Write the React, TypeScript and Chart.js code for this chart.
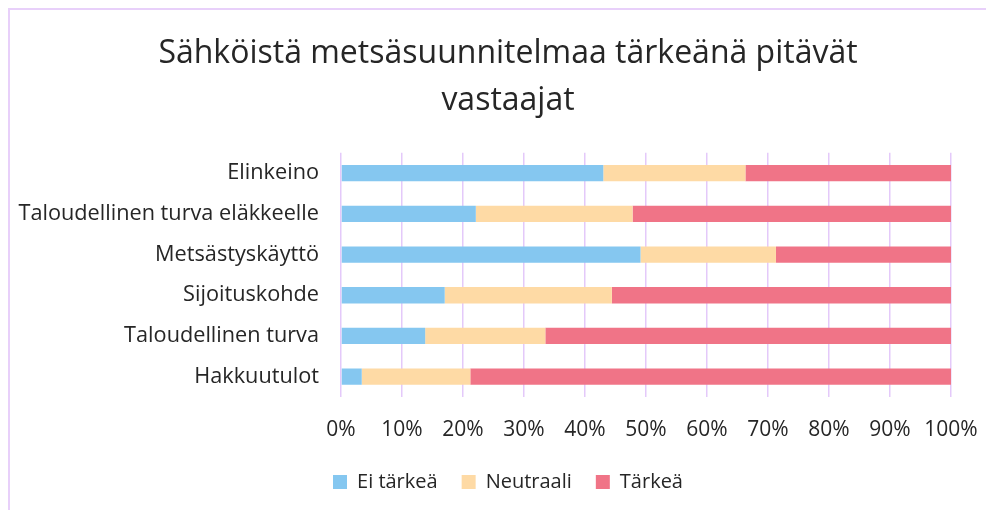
import { useEffect, useRef } from "react";
import { Chart, registerables } from "chart.js";
Chart.register(...registerables);

const titleLines = ["Sähköistä metsäsuunnitelmaa tärkeänä pitävät", "vastaajat"];
const categories = [
  "Elinkeino",
  "Taloudellinen turva eläkkeelle",
  "Metsästyskäyttö",
  "Sijoituskohde",
  "Taloudellinen turva",
  "Hakkuutulot",
];
const seriesNames = ["Ei tärkeä", "Neutraali", "Tärkeä"];
const eiTarkea = [43.0, 22.1, 49.1, 17.0, 13.8, 3.4];
const neutraali = [23.3, 25.7, 22.2, 27.4, 19.7, 17.8];
const tarkea = [33.7, 52.2, 28.7, 55.6, 66.5, 78.8];
const seriesColors = ["#85C7F0", "#FEDAA5", "#F07487"];

const FONT = "'Open Sans', sans-serif";
const TEXT = "#262626";

export default function App() {
  const ref = useRef<HTMLCanvasElement | null>(null);
  useEffect(() => {
    if (!ref.current) return;
    const chart = new Chart(ref.current, {
      type: "bar",
      data: {
        labels: categories,
        datasets: [eiTarkea, neutraali, tarkea].map((d, i) => ({
          label: seriesNames[i],
          data: d,
          backgroundColor: seriesColors[i],
          borderWidth: 0,
          barPercentage: 0.4,
          categoryPercentage: 1,
        })),
      },
      options: {
        indexAxis: "y",
        responsive: false,
        animation: false,
        layout: { padding: { left: 0, right: 14, top: 0, bottom: 8 } },
        plugins: {
          title: {
            display: true,
            text: titleLines,
            color: TEXT,
            font: { family: FONT, size: 32, weight: "normal", lineHeight: 1.45 },
            padding: { top: 21, bottom: 29 },
          },
          legend: {
            position: "bottom",
            labels: {
              color: TEXT,
              font: { family: FONT, size: 20 },
              boxWidth: 14,
              boxHeight: 14,
              padding: 24,
            },
          },
          tooltip: { enabled: false },
        },
        scales: {
          x: {
            stacked: true,
            min: 0,
            max: 100,
            ticks: {
              stepSize: 10,
              callback: (v: any) => v + "%",
              color: TEXT,
              font: { family: FONT, size: 21 },
              padding: 20,
            },
            grid: { color: "#E4C9FA", lineWidth: 1.5, drawTicks: false },
            border: { display: false },
            afterFit: (s: any) => {
              s.height = 51;
              s.paddingRight = 69;
            },
          },
          y: {
            stacked: true,
            ticks: {
              color: TEXT,
              font: { family: FONT, size: 21.7 },
              padding: 22,
            },
            grid: { display: false, drawTicks: false },
            border: { display: false },
            afterFit: (s: any) => {
              s.width = 331;
            },
          },
        },
      },
    });
    return () => chart.destroy();
  }, []);
  return (
    <div
      style={{
        width: 986,
        height: 502,
        boxSizing: "border-box",
        borderLeft: "2px solid #E8D0FA",
        borderTop: "2px solid #E8D0FA",
        overflow: "hidden",
      }}
    >
      <canvas ref={ref} width={1010} height={500} style={{ display: "block" }} />
    </div>
  );
}
